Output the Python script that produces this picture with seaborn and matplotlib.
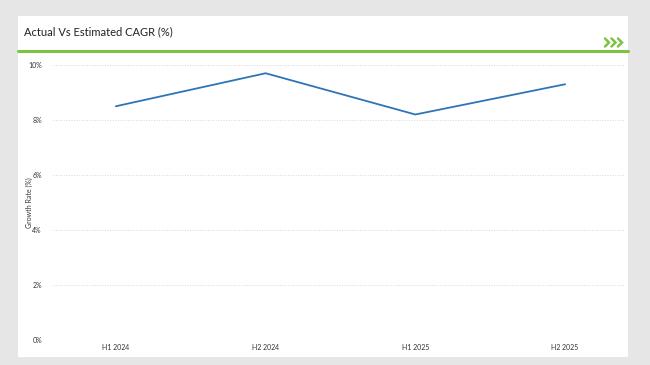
import matplotlib
matplotlib.use('Agg')
import matplotlib.pyplot as plt
import matplotlib.patches as patches
import matplotlib.lines as mlines
import pandas as pd
import seaborn as sns
from matplotlib.ticker import FuncFormatter

# ── Data ──────────────────────────────────────────────────────────────────
periods = ['H1 2024', 'H2 2024', 'H1 2025', 'H2 2025']
growth = [8.5, 9.7, 8.2, 9.3]
y_ticks = [0, 2, 4, 6, 8, 10]

df = pd.DataFrame({'period': periods, 'growth': growth})

sns.set_theme(style='white')
plt.rcParams['font.family'] = ['Lato', 'DejaVu Sans']

W, H = 650, 365
fig = plt.figure(figsize=(6.5, 3.65), dpi=100)
fig.patch.set_facecolor('#e6e6e6')

# white card
fig.add_artist(patches.Rectangle((18 / W, 1 - 357 / H), 610 / W, 341 / H,
                                 transform=fig.transFigure, facecolor='white',
                                 edgecolor='none', zorder=0))
fig.text(24 / W, 1 - 32 / H, 'Actual Vs Estimated CAGR (%)', fontsize=8,
         color='#222222', va='center', ha='left')
fig.add_artist(mlines.Line2D([18 / W, 628 / W], [1 - 51 / H, 1 - 51 / H],
                             transform=fig.transFigure, color='#7dc242', lw=2.2))
# chevrons
for x0 in (605, 611.5, 618):
    fig.add_artist(mlines.Line2D([x0 / W, (x0 + 4) / W, x0 / W],
                                 [1 - 38.5 / H, 1 - 42.5 / H, 1 - 46.5 / H],
                                 transform=fig.transFigure, color='#7dc242',
                                 lw=1.8, solid_joinstyle='miter'))

# ── Chart ─────────────────────────────────────────────────────────────────
ax = fig.add_axes([53 / W, 1 - 340 / H, 572 / W, 275 / H])
ax.set_facecolor('white')
sns.lineplot(data=df, x='period', y='growth', ax=ax, color='#2e75b6',
             linewidth=1.3, sort=False)

ax.set_ylim(0, 10)
ax.set_xlim(-0.42, 3.4)
ax.set_yticks(y_ticks)
ax.yaxis.set_major_formatter(FuncFormatter(lambda v, p: f'{v:.0f}%'))
ax.grid(axis='y', linestyle=':', color='#d9d9d9', linewidth=0.7)
ax.grid(axis='x', visible=False)
for s in ax.spines.values():
    s.set_visible(False)
ax.tick_params(axis='both', length=0, labelsize=5, colors='#333333')
ax.tick_params(axis='y', pad=8)
ax.tick_params(axis='x', pad=3)
ax.set_xlabel('')
ax.set_ylabel('Growth Rate (%)', fontsize=5, color='#333333')
ax.yaxis.set_label_coords((33 - 53) / 572, 0.5)

fig.savefig('out.png', dpi=100, facecolor=fig.get_facecolor())
